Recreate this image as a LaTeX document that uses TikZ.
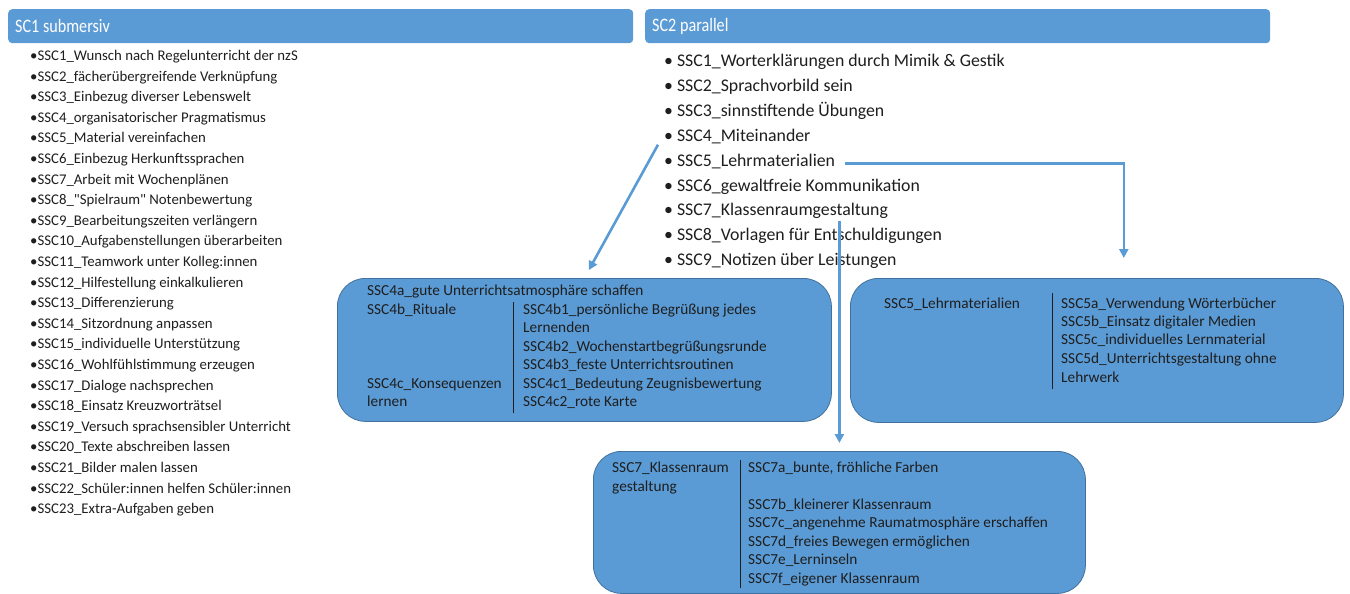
\documentclass[tikz,border=0pt]{standalone}
\usepackage{fontspec}
\setmainfont{Carlito}
\usetikzlibrary{calc,arrows.meta}
\definecolor{accent}{HTML}{5B9BD5}
\definecolor{accentdark}{HTML}{41719C}
\definecolor{ink}{HTML}{1E1E1E}
\newcommand{\headlabel}[1]{\scalebox{0.85}[1]{#1}}
\begin{document}
\begin{tikzpicture}[x=1pt,y=-1pt,
  header/.style={fill=accent, rounded corners=4pt, anchor=north west, inner sep=0pt},
  headtext/.style={anchor=west, inner sep=0pt, text=white, font=\fontsize{19}{22}\selectfont},
  item/.style={anchor=west, inner sep=0pt, text=ink, text height=0.7em, text depth=0.2em},
  leftitem/.style={item, font=\fontsize{14.8}{17}\selectfont},
  rightitem/.style={item, font=\fontsize{17.8}{21}\selectfont},
  panel/.style={draw=accentdark, line width=0.8pt, fill=accent, rounded corners=28pt,
    anchor=north west, inner sep=0pt},
  celltext/.style={item, font=\fontsize{15.3}{18}\selectfont},
  divider/.style={draw=ink, line width=0.8pt},
  link/.style={draw=accent, line width=2.6pt, -{Triangle[length=9pt,width=9pt]}}
]
\useasboundingbox (0,0) rectangle (1350,594);

% header bars
\node[header, minimum width=625pt, minimum height=34pt] (h1) at (8,9) {};
\node[headtext] (h1t) at (15,26) {\headlabel{SC1 submersiv}};
\node[header, minimum width=625pt, minimum height=34pt] (h2) at (645,9) {};
\node[headtext] (h2t) at (652,26) {\headlabel{SC2 parallel}};

% left list
\foreach \t [count=\i] in {
  SSC1\_Wunsch nach Regelunterricht der nzS,
  SSC2\_fächerübergreifende Verknüpfung,
  SSC3\_Einbezug diverser Lebenswelt,
  SSC4\_organisatorischer Pragmatismus,
  SSC5\_Material vereinfachen,
  SSC6\_Einbezug Herkunftssprachen,
  SSC7\_Arbeit mit Wochenplänen,
  SSC8\_\textquotedbl Spielraum\textquotedbl{} Notenbewertung,
  SSC9\_Bearbeitungszeiten verlängern,
  SSC10\_Aufgabenstellungen überarbeiten,
  SSC11\_Teamwork unter Kolleg:innen,
  SSC12\_Hilfestellung einkalkulieren,
  SSC13\_Differenzierung,
  SSC14\_Sitzordnung anpassen,
  SSC15\_individuelle Unterstützung,
  SSC16\_Wohlfühlstimmung erzeugen,
  SSC17\_Dialoge nachsprechen,
  SSC18\_Einsatz Kreuzworträtsel,
  SSC19\_Versuch sprachsensibler Unterricht,
  SSC20\_Texte abschreiben lassen,
  SSC21\_Bilder malen lassen,
  SSC22\_Schüler:innen helfen Schüler:innen,
  SSC23\_Extra-Aufgaben geben}
  \node[leftitem] (l\i) at (30,{58+20.6*(\i-1)}) {\textbullet\t};

% right list
\foreach \t [count=\i] in {
  SSC1\_Worterklärungen durch Mimik \& Gestik,
  SSC2\_Sprachvorbild sein,
  SSC3\_sinnstiftende Übungen,
  SSC4\_Miteinander,
  SSC5\_Lehrmaterialien,
  SSC6\_gewaltfreie Kommunikation,
  SSC7\_Klassenraumgestaltung,
  SSC8\_Vorlagen für Entschuldigungen,
  SSC9\_Notizen über Leistungen}
  \node[rightitem] (r\i) at (664,{64+24.9*(\i-1)}) {\textbullet\hspace{4pt}\t};

% panel SSC4
\node[panel, minimum width=494pt, minimum height=143pt] (box4) at (337,278) {};
\node[celltext] (c4a) at (367,293) {SSC4a\_gute Unterrichtsatmosphäre schaffen};
\node[celltext] (c4b) at (367,312) {SSC4b\_Rituale};
\node[celltext] (c4b1) at (523,312) {SSC4b1\_persönliche Begrüßung jedes};
\node[celltext] (c4b1x) at (523,330) {Lernenden};
\node[celltext] (c4b2) at (523,349) {SSC4b2\_Wochenstartbegrüßungsrunde};
\node[celltext] (c4b3) at (523,367) {SSC4b3\_feste Unterrichtsroutinen};
\node[celltext] (c4c) at (367,386) {SSC4c\_Konsequenzen};
\node[celltext] (c4c1) at (523,386) {SSC4c1\_Bedeutung Zeugnisbewertung};
\node[celltext] (c4cx) at (367,404) {lernen};
\node[celltext] (c4c2) at (523,404) {SSC4c2\_rote Karte};
\coordinate (d4a) at (513,302);
\coordinate (d4b) at (513,413);
\draw[divider] (d4a) -- (d4b);

% panel SSC5
\node[panel, minimum width=493pt, minimum height=144pt] (box5) at (850,278) {};
\node[celltext] (c5) at (884,306) {SSC5\_Lehrmaterialien};
\node[celltext] (c5a) at (1061,306) {SSC5a\_Verwendung Wörterbücher};
\node[celltext] (c5b) at (1061,324) {SSC5b\_Einsatz digitaler Medien};
\node[celltext] (c5c) at (1061,342) {SSC5c\_individuelles Lernmaterial};
\node[celltext] (c5d) at (1061,361) {SSC5d\_Unterrichtsgestaltung ohne};
\node[celltext] (c5dx) at (1061,380) {Lehrwerk};
\coordinate (d5a) at (1052,293);
\coordinate (d5b) at (1052,389);
\draw[divider] (d5a) -- (d5b);

% panel SSC7
\node[panel, minimum width=492pt, minimum height=142pt] (box7) at (593,451) {};
\node[celltext] (c7) at (612,470) {SSC7\_Klassenraum};
\node[celltext] (c7x) at (612,489) {gestaltung};
\node[celltext] (c7a) at (748,470) {SSC7a\_bunte, fröhliche Farben};
\node[celltext] (c7b) at (748,507) {SSC7b\_kleinerer Klassenraum};
\node[celltext] (c7c) at (748,525) {SSC7c\_angenehme Raumatmosphäre erschaffen};
\node[celltext] (c7d) at (748,544) {SSC7d\_freies Bewegen ermöglichen};
\node[celltext] (c7e) at (748,562) {SSC7e\_Lerninseln};
\node[celltext] (c7f) at (748,581) {SSC7f\_eigener Klassenraum};
\coordinate (d7a) at (740,460);
\coordinate (d7b) at (740,588);
\draw[divider] (d7a) -- (d7b);

% connectors from the list to the panels
\coordinate (s4) at ($(r4.west)+(-6,6)$);
\draw[link, shorten >=9pt] (s4) -- (box4.north);
\coordinate (t5) at ($(box5.north east)+(-220,-20)$);
\draw[link] ($(r5.east)+(10,0)$) -| (t5);
\coordinate (s7) at ($(r7.south)+(0,3)$);
\draw[link, shorten >=8pt] (s7 -| box7.north) -- (box7.north);
\end{tikzpicture}
\end{document}
